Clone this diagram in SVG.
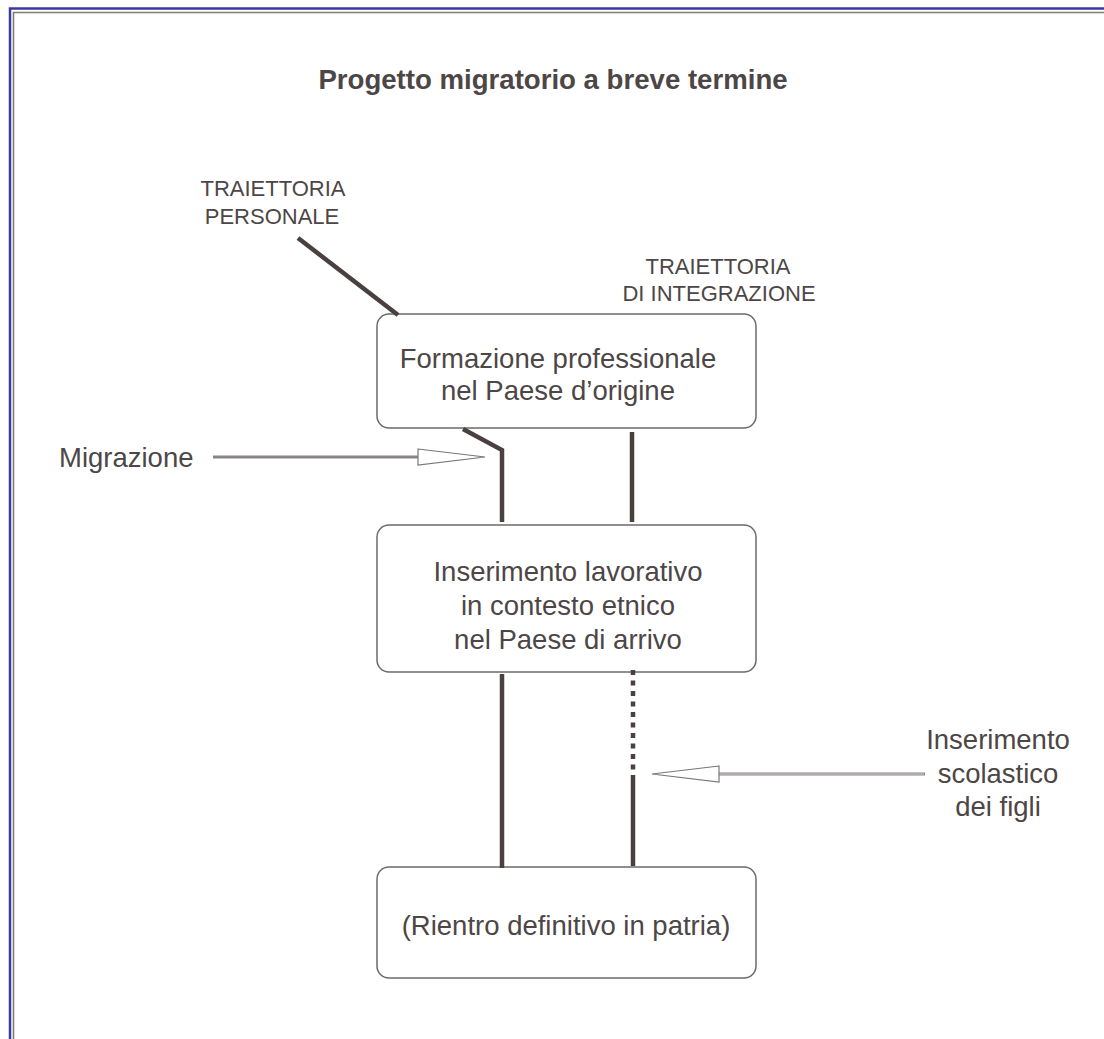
<svg xmlns="http://www.w3.org/2000/svg" width="1104" height="1039" viewBox="0 0 1104 1039">
<style>
text{font-family:"Liberation Sans",Arial,sans-serif;fill:#4d4646}
.box{fill:#fff;stroke:#6e6a6a;stroke-width:1.5}
.t{font-size:27.5px;text-anchor:middle}
.s{font-size:22px;text-anchor:middle}
.traj{fill:none;stroke:#4a4040;stroke-width:4.5;stroke-linecap:butt}
.arr{fill:#fff;stroke:#777;stroke-width:1.2}
</style>
<rect width="1104" height="1039" fill="#fff"/>
<g id="frame">
<path d="M10,1045 V8.5 H1110" fill="none" stroke="#3b3b9e" stroke-width="2.5"/>
<path d="M13.5,1045 V12.5 H1110" fill="none" stroke="#807a76" stroke-width="1.6"/>
</g>
<text id="title" x="553" y="89" font-size="27.6" font-weight="bold" text-anchor="middle">Progetto migratorio a breve termine</text>
<g id="label-personale">
<text class="s" x="273" y="196">TRAIETTORIA</text>
<text class="s" x="272" y="224">PERSONALE</text>
</g>
<g id="label-integrazione">
<text class="s" x="718" y="274">TRAIETTORIA</text>
<text class="s" x="719" y="301">DI INTEGRAZIONE</text>
</g>
<g id="node-formazione">
<rect class="box" x="377" y="314" width="379" height="114" rx="12"/>
<text class="t" x="558" y="368">Formazione professionale</text>
<text class="t" x="558" y="400">nel Paese d’origine</text>
</g>
<g id="node-inserimento">
<rect class="box" x="377" y="525" width="379" height="147" rx="12"/>
<text class="t" x="568" y="581">Inserimento lavorativo</text>
<text class="t" x="568" y="615">in contesto etnico</text>
<text class="t" x="568" y="649">nel Paese di arrivo</text>
</g>
<g id="node-rientro">
<rect class="box" x="377" y="867" width="379" height="111" rx="12"/>
<text class="t" x="566" y="935">(Rientro definitivo in patria)</text>
</g>
<g id="label-migrazione">
<text x="59" y="467" font-size="27.5">Migrazione</text>
</g>
<g id="label-scolastico">
<text class="t" x="998" y="749">Inserimento</text>
<text class="t" x="998" y="783">scolastico</text>
<text class="t" x="998" y="816">dei figli</text>
</g>
<g id="connectors">
<line class="traj" x1="298" y1="238" x2="398" y2="315"/>
<polyline class="traj" points="463,429 502,450 502,522" stroke-linejoin="miter"/>
<line class="traj" x1="632" y1="432" x2="632" y2="522"/>
<line class="traj" x1="502" y1="674" x2="502" y2="868"/>
<line class="traj" x1="633" y1="670" x2="633" y2="770" stroke-dasharray="5 5.5"/>
<line class="traj" x1="633" y1="775" x2="633" y2="866"/>
<line x1="213" y1="457" x2="418" y2="457" stroke="#8a8585" stroke-width="3"/>
<polygon class="arr" points="418,449 485,457 418,465"/>
<line x1="719" y1="774" x2="925" y2="774" stroke="#8a8585" stroke-width="3.2"/>
<line x1="719" y1="774" x2="924" y2="774" stroke="#d8d4d4" stroke-width="1"/>
<polygon class="arr" points="719,766 652,774 719,782"/>
</g>
</svg>
